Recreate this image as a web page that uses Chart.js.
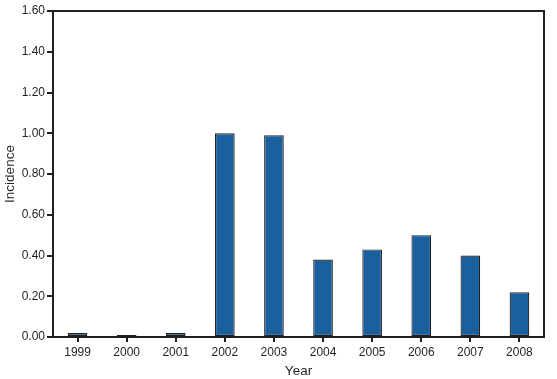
<!DOCTYPE html>
<html><head><meta charset="utf-8">
<script src="https://cdn.jsdelivr.net/npm/chart.js@4"></script>
<style>html,body{margin:0;padding:0;background:#fff}#wrap{width:557px;height:379px}</style>
</head><body><div id="wrap"><canvas id="c" width="557" height="379"></canvas></div>
<script>
const years = ["1999","2000","2001","2002","2003","2004","2005","2006","2007","2008"];
const incidence = [0.02,0.01,0.02,1.00,0.99,0.38,0.43,0.50,0.40,0.22];
const yTicks = [0,0.2,0.4,0.6,0.8,1.0,1.2,1.4,1.6];
const ink = '#231f20';
const boxPlugin = {
  id:'box',
  afterDraw(chart){
    const {ctx, chartArea:a} = chart;
    ctx.save(); ctx.strokeStyle = ink; ctx.lineWidth = 2;
    ctx.strokeRect(a.left, a.top, a.right-a.left, a.bottom-a.top);
    ctx.restore();
  }
};
new Chart(document.getElementById('c'), {
  type:'bar',
  data:{labels:years, datasets:[{data:incidence, backgroundColor:'#1a5f9e', borderColor:ink, borderWidth:1.2, borderSkipped:false, barPercentage:0.4, categoryPercentage:1.0}]},
  options:{
    responsive:false, animation:false, devicePixelRatio:1,
    layout:{padding:{left:0,right:13,top:11,bottom:0}},
    plugins:{legend:{display:false}, tooltip:{enabled:false}},
    scales:{
      x:{
        grid:{display:true, drawOnChartArea:false, drawTicks:true, tickLength:5, offset:false, color:ink, lineWidth:2},
        border:{display:true, color:ink, width:2},
        ticks:{color:ink, font:{family:'Liberation Sans', size:12}, padding:3, maxRotation:0},
        title:{display:true, text:'Year', color:ink, font:{family:'Liberation Sans', size:13.5}, padding:{top:0,bottom:0}},
        afterFit(s){ s.height = 42; }
      },
      y:{
        min:0, max:1.6,
        afterBuildTicks(s){ s.ticks = yTicks.map(v=>({value:v})); },
        grid:{display:true, drawOnChartArea:false, drawTicks:true, tickLength:6, color:ink, lineWidth:2},
        border:{display:true, color:ink, width:2},
        ticks:{color:ink, font:{family:'Liberation Sans', size:12}, padding:2, callback:v=>Number(v).toFixed(2)},
        title:{display:true, text:'Incidence', color:ink, font:{family:'Liberation Sans', size:13.5}, padding:{top:2,bottom:0}},
        afterFit(s){ s.width = 53; }
      }
    }
  },
  plugins:[boxPlugin]
});
</script></body></html>
